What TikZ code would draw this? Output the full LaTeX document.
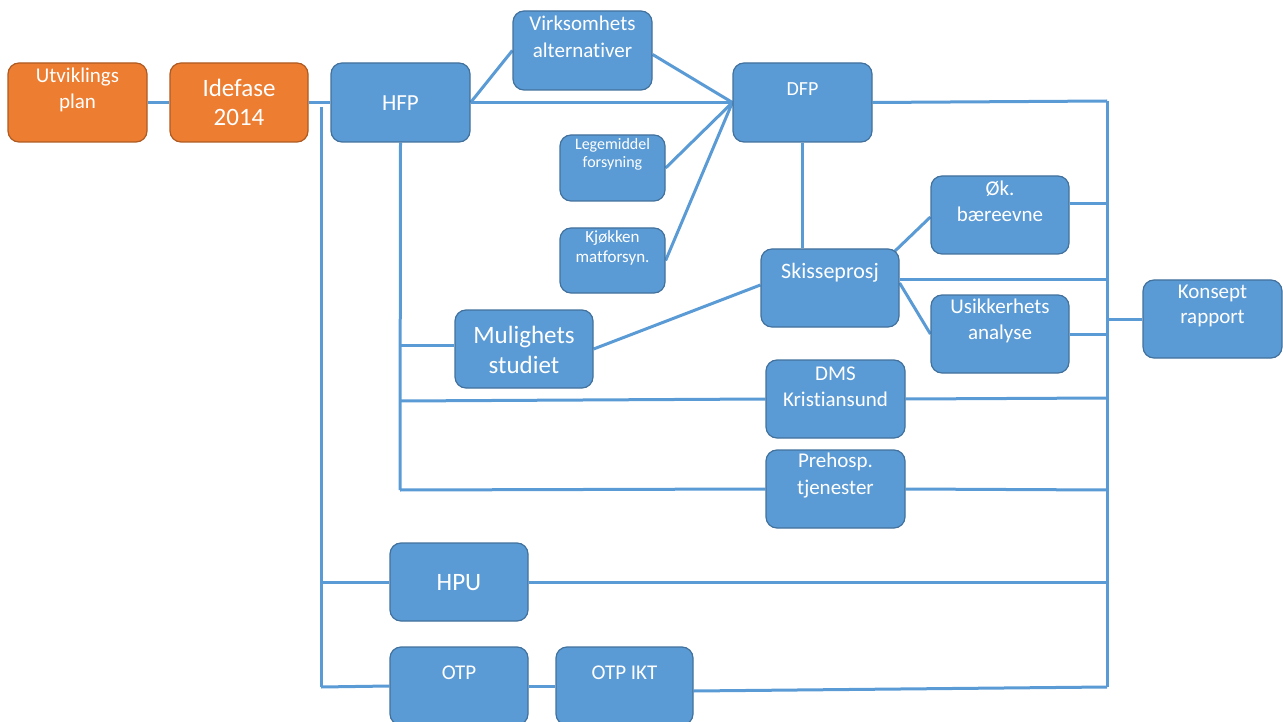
\documentclass[tikz,border=0pt]{standalone}
\usepackage{fontspec}
\setmainfont[Ligatures=NoCommon]{Carlito}
\usetikzlibrary{calc,backgrounds}
\definecolor{bfill}{HTML}{5B9BD5}
\definecolor{bdraw}{HTML}{41719C}
\definecolor{ofill}{HTML}{ED7D31}
\definecolor{odraw}{HTML}{AE5A21}
\begin{document}
\begin{tikzpicture}[x=1pt,y=-1pt,
  box/.style={draw=bdraw, fill=bfill, line width=1.2pt, rounded corners=11pt, inner sep=0pt},
  obox/.style={box, draw=odraw, fill=ofill},
  lbl/.style={text=white, align=center, inner sep=0pt},
  conn/.style={draw=bfill, line width=3pt},
  fa/.style={font=\fontsize{21}{26}\selectfont},
  fb/.style={font=\fontsize{25}{29}\selectfont},
]
\useasboundingbox (0,0) rectangle (1283,722);
\clip (0,0) rectangle (1283,722);

% boxes
\node[obox, minimum width=139pt, minimum height=79pt] (util) at (77.5,102.5) {};
\node[obox, minimum width=138pt, minimum height=79pt] (idef) at (239,102.5) {};
\node[box, minimum width=139pt, minimum height=79pt] (hfp) at (400.5,102.5) {};
\node[box, minimum width=139pt, minimum height=79pt] (virk) at (582.5,50.5) {};
\node[box, minimum width=139pt, minimum height=79pt] (dfp) at (802.5,102.5) {};
\node[box, minimum width=105pt, minimum height=66pt] (lege) at (612.5,168) {};
\node[box, minimum width=105pt, minimum height=65pt] (kjok) at (612.5,260.5) {};
\node[box, minimum width=138pt, minimum height=78pt] (skis) at (830,288) {};
\node[box, minimum width=138pt, minimum height=78pt] (okb) at (1000,215) {};
\node[box, minimum width=138pt, minimum height=78pt] (usik) at (1000,334) {};
\node[box, minimum width=139pt, minimum height=78pt] (kons) at (1212.5,319) {};
\node[box, minimum width=138pt, minimum height=78pt] (mul) at (524,349) {};
\node[box, minimum width=139pt, minimum height=78pt] (dms) at (835.5,399) {};
\node[box, minimum width=139pt, minimum height=78pt] (preh) at (835.5,489) {};
\node[box, minimum width=138pt, minimum height=78pt] (hpu) at (459,582) {};
\node[box, minimum width=138pt, minimum height=78pt] (otp) at (459,686) {};
\node[box, minimum width=137pt, minimum height=78pt] (otpikt) at (624.5,686) {};

% labels
\node[lbl, fa] (util-t) at (77.5,89.5) {Utviklings\\plan};
\node[lbl, fb] (idef-t) at (239,102.5) {Idefase\\2014};
\node[lbl, font=\fontsize{23}{27}\selectfont] (hfp-t) at (400.5,103) {HFP};
\node[lbl, font=\fontsize{21}{27}\selectfont] (virk-t) at (582.5,36.5) {Virksomhets\\alternativer};
\node[lbl, font=\fontsize{20}{24}\selectfont] (dfp-t) at (802.5,89) {DFP};
\node[lbl, font=\fontsize{16}{18}\selectfont] (lege-t) at (612.5,154.5) {Legemiddel\\forsyning};
\node[lbl, font=\fontsize{17}{20}\selectfont] (kjok-t) at (612.5,247.5) {Kjøkken\\matforsyn.};
\node[lbl, font=\fontsize{22}{26}\selectfont] (skis-t) at (830,273) {Skisseprosj};
\node[lbl, fa] (okb-t) at (1000,201.5) {Øk.\\bæreevne};
\node[lbl, fa] (usik-t) at (1000,320.5) {Usikkerhets\\analyse};
\node[lbl, font=\fontsize{21}{25}\selectfont] (kons-t) at (1212.5,306) {Konsept\\rapport};
\node[lbl, font=\fontsize{25}{30}\selectfont] (mul-t) at (524,350) {Mulighets\\studiet};
\node[lbl, fa] (dms-t) at (835.5,386.5) {DMS\\Kristiansund};
\node[lbl, font=\fontsize{21}{27}\selectfont] (preh-t) at (835.5,476) {Prehosp.\\tjenester};
\node[lbl, fb] (hpu-t) at (459,583) {HPU};
\node[lbl, fa] (otp-t) at (459,673) {OTP};
\node[lbl, fa] (otpikt-t) at (624.5,673) {OTP IKT};

% bus coordinates
\coordinate (L1) at (321,107);
\coordinate (L2) at (321,687);
\coordinate (R1) at (1107,101);
\coordinate (R2) at (1107,687);
\coordinate (H2) at (400,490);
\coordinate (hm) at (400,345);
\coordinate (hd) at (400,401);
\coordinate (rd) at (1107,398);
\coordinate (rp) at (1107,490);
\coordinate (ro) at (1107,204);
\coordinate (rs) at (1107,280);

\begin{scope}[on background layer]
\draw[conn] (util.east) -- (idef.west);
\draw[conn] (idef.east) -- (hfp.west);
\draw[conn] (L1) -- (L2);
\draw[conn] (R1) -- (R2);
\draw[conn] (hfp.east) -- (virk.west);
\draw[conn] (hfp.east) -- (dfp.west);
\draw[conn] ($(virk.east)+(0,4)$) -- (dfp.west);
\draw[conn] (lege.east) -- (dfp.west);
\draw[conn] (kjok.east) -- (dfp.west);
\draw[conn] (dfp.east) -- (R1);
\draw[conn] (dfp.south) -- (dfp.south |- skis.north);
\draw[conn] (hfp.south) -- (H2);
\draw[conn] (hm) -- (hm -| mul.west);
\draw[conn] (mul.east) -- ($(skis.west)+(0,-3)$);
\draw[conn] (hd) -- (dms.west);
\draw[conn] (dms.east) -- (rd);
\draw[conn] (H2) -- (preh.west);
\draw[conn] (preh.east) -- (rp);
\draw[conn] ($(skis.north east)+(-5,3)$) -- ($(okb.west)+(0,2)$);
\draw[conn] (ro -| okb.east) -- (ro);
\draw[conn] (rs -| skis.east) -- (rs);
\draw[conn] ($(skis.east)+(0,-5)$) -- (usik.west);
\draw[conn] (usik.east) -- (usik.east -| R1);
\draw[conn] (kons.west) -- (kons.west -| R1);
\draw[conn] (hpu.west -| L1) -- (hpu.west);
\draw[conn] (hpu.east) -- (hpu.east -| R1);
\draw[conn] (L2) -- (otp.west);
\draw[conn] (otp.east) -- (otpikt.west);
\draw[conn] ($(otpikt.east)+(0,5)$) -- (R2);
\end{scope}
\end{tikzpicture}
\end{document}
